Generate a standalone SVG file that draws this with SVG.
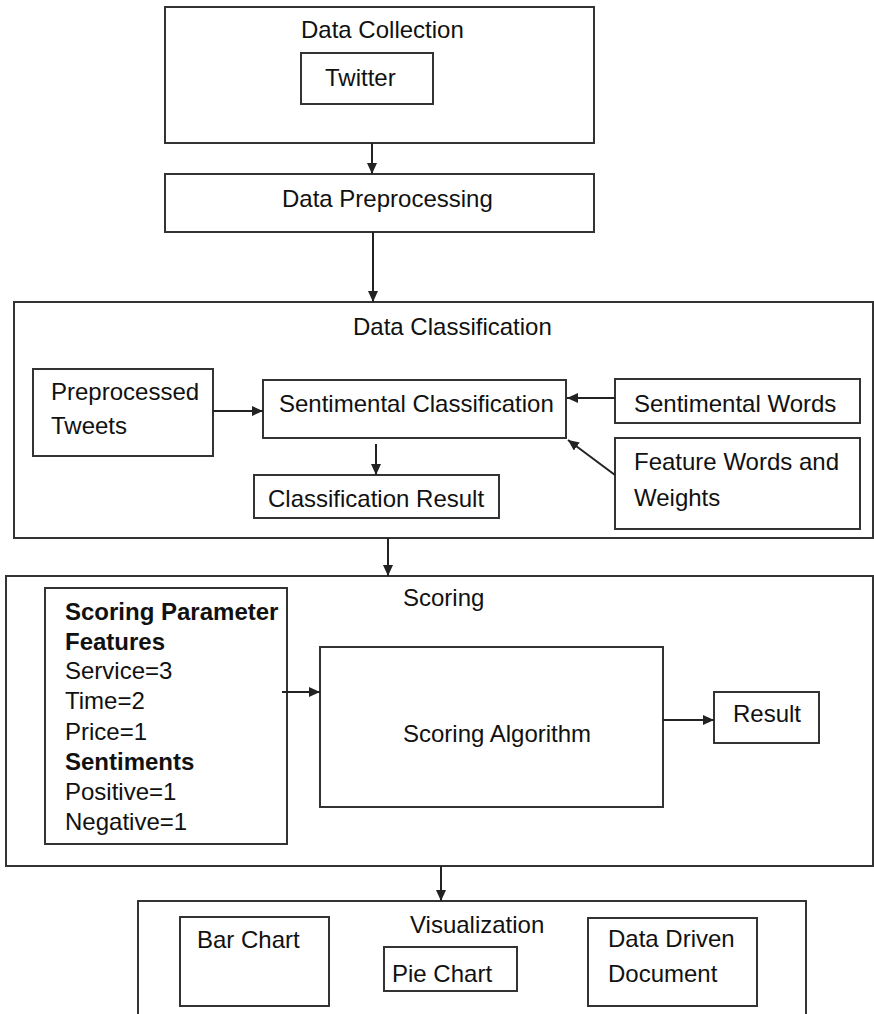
<svg xmlns="http://www.w3.org/2000/svg" width="874" height="1014" viewBox="0 0 874 1014">
  <style>
    .box { fill: none; stroke: #333; stroke-width: 2; }
    .lbl { font-family: "Liberation Sans", Arial, sans-serif; font-size: 24px; fill: #111; }
    .bold { font-weight: bold; }
    .edge { fill: none; stroke: #222; stroke-width: 2; marker-end: url(#head); }
  </style>
  <defs>
    <marker id="head" markerUnits="userSpaceOnUse" markerWidth="12" markerHeight="10" refX="11" refY="5" orient="auto">
      <path d="M0,0 L11,5 L0,10 Z" fill="#222"/>
    </marker>
  </defs>
  <rect width="874" height="1014" fill="#fff"/>

  <!-- Data collection stage -->
  <g id="data-collection">
    <rect class="box" x="165" y="7" width="429" height="136"/>
    <text class="lbl" x="301" y="38">Data Collection</text>
  </g>
  <g id="twitter">
    <rect class="box" x="301" y="53" width="132" height="51"/>
    <text class="lbl" x="325" y="86">Twitter</text>
  </g>

  <!-- Preprocessing stage -->
  <g id="data-preprocessing">
    <rect class="box" x="165" y="174" width="429" height="58"/>
    <text class="lbl" x="282" y="207">Data Preprocessing</text>
  </g>

  <!-- Classification stage -->
  <g id="data-classification">
    <rect class="box" x="14" y="302" width="859" height="236"/>
    <text class="lbl" x="353" y="335">Data Classification</text>
  </g>
  <g id="preprocessed-tweets">
    <rect class="box" x="33" y="369" width="180" height="87"/>
    <text class="lbl" x="51" y="400">Preprocessed</text>
    <text class="lbl" x="51" y="434">Tweets</text>
  </g>
  <g id="sentimental-classification">
    <rect class="box" x="263" y="380" width="303" height="58"/>
    <text class="lbl" x="279" y="412">Sentimental Classification</text>
  </g>
  <g id="sentimental-words">
    <rect class="box" x="615" y="379" width="245" height="44"/>
    <text class="lbl" x="634" y="412">Sentimental Words</text>
  </g>
  <g id="feature-words">
    <rect class="box" x="615" y="438" width="245" height="91"/>
    <text class="lbl" x="634" y="470">Feature Words and</text>
    <text class="lbl" x="634" y="506">Weights</text>
  </g>
  <g id="classification-result">
    <rect class="box" x="254" y="475" width="245" height="43"/>
    <text class="lbl" x="268" y="507">Classification Result</text>
  </g>

  <!-- Scoring stage -->
  <g id="scoring">
    <rect class="box" x="6" y="576" width="867" height="290"/>
    <text class="lbl" x="403" y="606">Scoring</text>
  </g>
  <g id="scoring-parameters">
    <rect class="box" x="45" y="588" width="242" height="256"/>
    <text class="lbl bold" x="65" y="620">Scoring Parameter</text>
    <text class="lbl bold" x="65" y="650">Features</text>
    <text class="lbl" x="65" y="679">Service=3</text>
    <text class="lbl" x="65" y="709">Time=2</text>
    <text class="lbl" x="65" y="740">Price=1</text>
    <text class="lbl bold" x="65" y="770">Sentiments</text>
    <text class="lbl" x="65" y="800">Positive=1</text>
    <text class="lbl" x="65" y="830">Negative=1</text>
  </g>
  <g id="scoring-algorithm">
    <rect class="box" x="320" y="647" width="343" height="160"/>
    <text class="lbl" x="403" y="742">Scoring Algorithm</text>
  </g>
  <g id="result">
    <rect class="box" x="714" y="692" width="105" height="51"/>
    <text class="lbl" x="733" y="722">Result</text>
  </g>

  <!-- Visualization stage -->
  <g id="visualization">
    <rect class="box" x="138" y="901" width="668" height="130"/>
    <text class="lbl" x="410" y="933">Visualization</text>
  </g>
  <g id="bar-chart">
    <rect class="box" x="180" y="917" width="149" height="89"/>
    <text class="lbl" x="197" y="948">Bar Chart</text>
  </g>
  <g id="pie-chart">
    <rect class="box" x="384" y="947" width="133" height="44"/>
    <text class="lbl" x="392" y="982">Pie Chart</text>
  </g>
  <g id="data-driven-document">
    <rect class="box" x="588" y="918" width="169" height="88"/>
    <text class="lbl" x="608" y="947">Data Driven</text>
    <text class="lbl" x="608" y="982">Document</text>
  </g>

  <!-- Connectors -->
  <g id="connectors">
    <line class="edge" x1="372" y1="143" x2="372" y2="174"/>
    <line class="edge" x1="373" y1="232" x2="373" y2="302"/>
    <line class="edge" x1="213" y1="411" x2="263" y2="411"/>
    <line class="edge" x1="615" y1="398" x2="567" y2="398"/>
    <line class="edge" x1="615" y1="475" x2="568" y2="440"/>
    <line class="edge" x1="376" y1="444" x2="376" y2="475"/>
    <line class="edge" x1="388" y1="538" x2="388" y2="576"/>
    <line class="edge" x1="282" y1="692" x2="320" y2="692"/>
    <line class="edge" x1="663" y1="720" x2="714" y2="720"/>
    <line class="edge" x1="441" y1="866" x2="441" y2="901"/>
  </g>
</svg>
